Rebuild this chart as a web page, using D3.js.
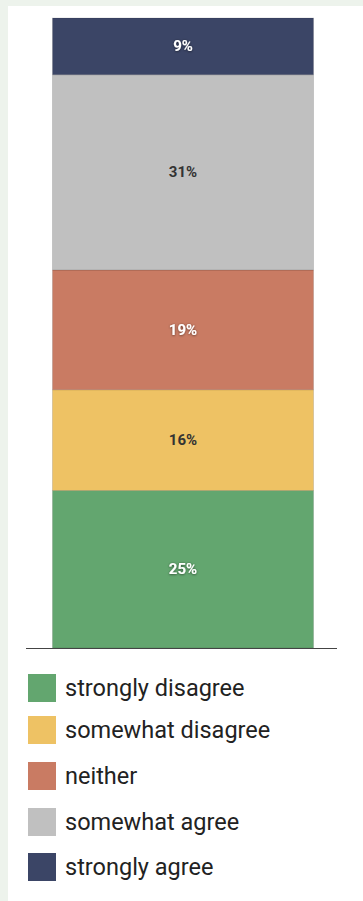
<!DOCTYPE html>
<html>
<head>
<meta charset="utf-8">
<script src="https://cdn.jsdelivr.net/npm/d3@7"></script>
<style>
  html, body { margin: 0; padding: 0; background: #edf3ec; }
  body { width: 363px; height: 901px; overflow: hidden; position: relative; }
  #panel { position: absolute; left: 8px; top: 6px; width: 355px; height: 895px; background: #fff; }
  svg { position: absolute; left: 0; top: 0; }
  .lbl { font-family: Roboto, "Noto Sans", sans-serif; font-weight: 700; font-size: 15px; }
  .lbl.light { fill: #fff; }
  .lbl.dark { fill: #333; }
  .leg { font-family: Roboto, "Noto Sans", sans-serif; font-size: 23.5px; fill: #222; }
</style>
</head>
<body>
<div id="panel"></div>
<svg id="chart" width="363" height="901"></svg>
<script>
// Response categories, bottom of the stack first
const categories = ["strongly disagree", "somewhat disagree", "neither", "somewhat agree", "strongly agree"];
// Share of responses (%) for each category
const values = [25, 16, 19, 31, 9];
const colors = ["#63a66f", "#eec264", "#c97b63", "#c0c0c0", "#3b4566"];
const labelOnDark = [true, false, true, false, true];

// Legend row layout (vertical offset of each row, in px)
const legendRowY = [0, 42, 88, 134, 179];

const svg = d3.select("#chart");
const defs = svg.append("defs");
const f = defs.append("filter").attr("id", "shadow").attr("x", "-20%").attr("y", "-40%").attr("width", "140%").attr("height", "180%");
f.append("feDropShadow").attr("dx", 0).attr("dy", 0.5).attr("stdDeviation", 1.2).attr("flood-color", "#000").attr("flood-opacity", 0.6);

const x = d3.scaleBand().domain(["all"]).range([52, 314]).padding(0);
const y = d3.scaleLinear().domain([0, 100]).range([648, 18]);

let acc = 0;
const stack = values.map((v, i) => {
  const d = { cat: categories[i], v, y0: acc, y1: acc + v, color: colors[i], dark: labelOnDark[i] };
  acc += v;
  return d;
});

const g = svg.append("g");
g.selectAll("rect.seg").data(stack).join("rect")
  .attr("class", "seg")
  .attr("x", x("all") + 0.5)
  .attr("width", x.bandwidth() - 1)
  .attr("y", d => y(d.y1))
  .attr("height", d => y(d.y0) - y(d.y1))
  .attr("fill", d => d.color)
  .attr("stroke", "rgba(0,0,0,0.12)")
  .attr("stroke-width", 1);

g.selectAll("text.lbl").data(stack).join("text")
  .attr("class", d => "lbl " + (d.dark ? "light" : "dark"))
  .attr("x", x("all") + x.bandwidth() / 2)
  .attr("y", d => (y(d.y0) + y(d.y1)) / 2)
  .attr("text-anchor", "middle")
  .attr("dominant-baseline", "central")
  .attr("filter", d => d.dark ? "url(#shadow)" : null)
  .text(d => d.v + "%");

// baseline axis
svg.append("line")
  .attr("x1", 26).attr("x2", 337)
  .attr("y1", y(0) + 0.5).attr("y2", y(0) + 0.5)
  .attr("stroke", "#444").attr("stroke-width", 1.2);

// legend
const leg = svg.append("g").attr("transform", "translate(28,674)");
const rows = leg.selectAll("g").data(stack).join("g")
  .attr("transform", (d, i) => `translate(0,${legendRowY[i]})`);
rows.append("rect").attr("width", 28).attr("height", 28).attr("fill", d => d.color);
rows.append("text").attr("class", "leg").attr("x", 37).attr("y", 22).text(d => d.cat);
</script>
</body>
</html>
